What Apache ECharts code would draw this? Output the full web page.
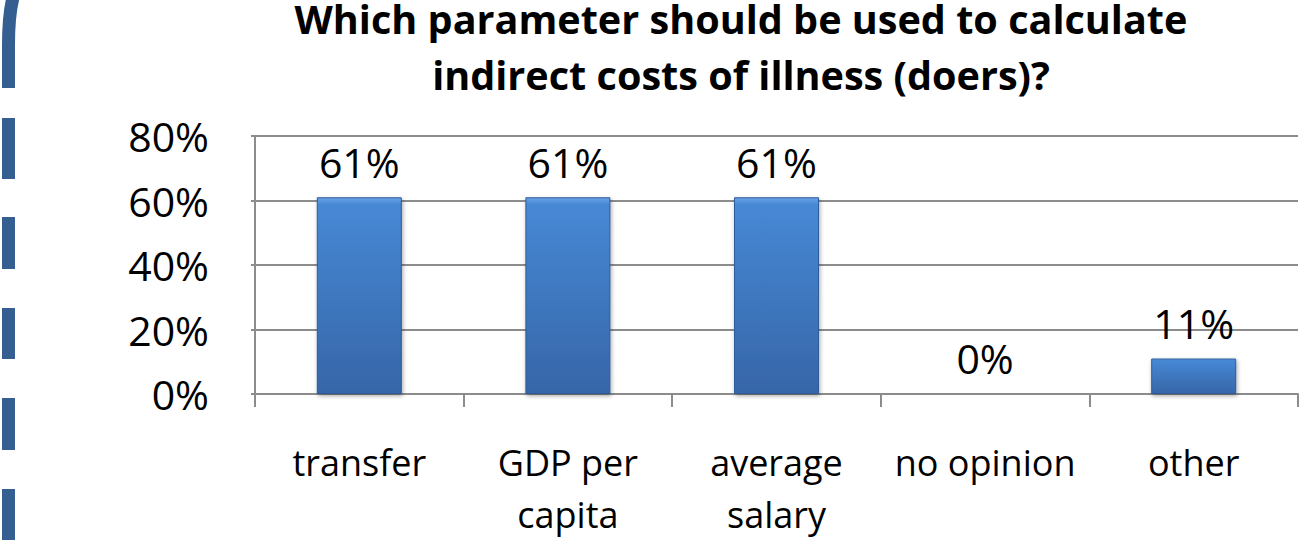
<!DOCTYPE html>
<html>
<head>
<meta charset="utf-8">
<title>Which parameter should be used to calculate indirect costs of illness (doers)?</title>
<script src="https://cdn.jsdelivr.net/npm/echarts@6/dist/echarts.min.js"></script>
<style>
  html, body { margin: 0; padding: 0; background: #ffffff; }
  #chart { width: 1306px; height: 540px; }
</style>
</head>
<body>
<div id="chart"></div>
<script>
// Survey answers: share of respondents choosing each parameter
const categories = ['transfer', 'GDP per\ncapita', 'average\nsalary', 'no opinion', 'other'];
const shares = [0.61, 0.61, 0.61, 0, 0.11];
const titleLines = ['Which parameter should be used to calculate', 'indirect costs of illness (doers)?'];

const FONT = "'Open Sans', 'Noto Sans', sans-serif";
const pct = v => Math.round(v * 100) + '%';

// Dashed slide border on the left edge (decoration)
const borderColor = '#365f91';
const dashSpans = [[118, 179], [217, 269], [308, 359], [398, 450], [489, 540]];
const borderGraphics = dashSpans.map(([y0, y1]) => ({
  type: 'rect',
  shape: { x: 2, y: y0, width: 13, height: y1 - y0 },
  style: { fill: borderColor },
  silent: true
}));
borderGraphics.push(
  {
    type: 'line',
    shape: { x1: 8.5, y1: 88, x2: 8.5, y2: 44 },
    style: { stroke: borderColor, lineWidth: 13 },
    silent: true
  },
  {
    type: 'bezierCurve',
    shape: { x1: 8.5, y1: 45, cpx1: 8.5, cpy1: 12, x2: 14, y2: -6 },
    style: { stroke: borderColor, lineWidth: 13, fill: null },
    silent: true
  }
);

const barFill = {
  type: 'linear', x: 0, y: 0, x2: 0, y2: 1,
  colorStops: [
    { offset: 0, color: '#6aa3e6' },
    { offset: 0.035, color: '#4788d5' },
    { offset: 1, color: '#3666a8' }
  ]
};

const chart = echarts.init(document.getElementById('chart'), null, { renderer: 'svg' });
chart.setOption({
  backgroundColor: '#ffffff',
  animation: false,
  textStyle: { fontFamily: FONT },
  title: titleLines.map((line, i) => ({
    text: line,
    left: 741,
    textAlign: 'center',
    top: i * 56,
    padding: 0,
    textStyle: {
      fontFamily: FONT,
      fontWeight: 'bold',
      fontSize: 39.6,
      lineHeight: 37,
      color: '#000000'
    }
  })),
  graphic: borderGraphics,
  grid: { left: 255, right: 8, top: 136, bottom: 145, containLabel: false },
  xAxis: {
    type: 'category',
    data: categories,
    axisLine: { show: true, lineStyle: { color: '#8c8c8c', width: 2 } },
    axisTick: { show: true, length: 13, lineStyle: { color: '#8c8c8c', width: 2 } },
    axisLabel: {
      color: '#000000',
      fontFamily: FONT,
      fontSize: 36,
      lineHeight: 52,
      margin: 42,
      interval: 0
    }
  },
  yAxis: {
    type: 'value',
    min: 0,
    max: 0.8,
    interval: 0.2,
    axisLine: { show: true, lineStyle: { color: '#8c8c8c', width: 2 } },
    axisTick: { show: true, length: 4, lineStyle: { color: '#8c8c8c', width: 2 } },
    splitLine: { show: true, lineStyle: { color: '#8c8c8c', width: 2 } },
    axisLabel: {
      color: '#000000',
      fontFamily: FONT,
      fontSize: 41,
      margin: 46,
      formatter: pct
    }
  },
  series: [{
    type: 'bar',
    data: shares,
    barWidth: 85,
    itemStyle: {
      color: barFill,
      borderColor: '#2f5b98',
      borderWidth: 1,
      shadowColor: 'rgba(0,0,0,0.35)',
      shadowBlur: 4,
      shadowOffsetX: 1,
      shadowOffsetY: 2
    },
    label: {
      show: true,
      position: 'top',
      distance: 15,
      color: '#000000',
      fontFamily: FONT,
      fontSize: 41,
      formatter: p => pct(p.value)
    }
  }]
});
</script>
</body>
</html>
